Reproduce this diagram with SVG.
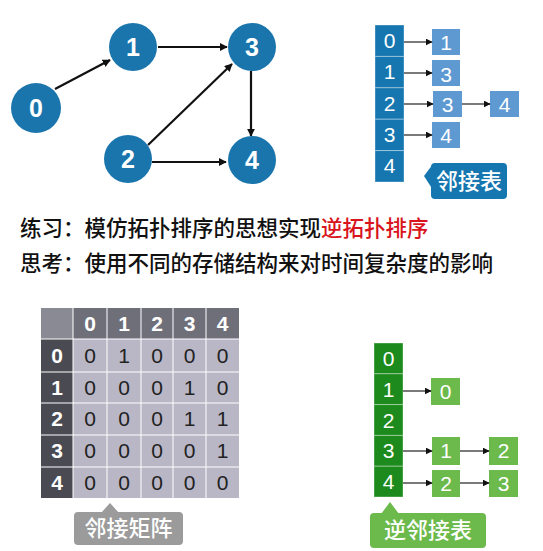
<svg xmlns="http://www.w3.org/2000/svg" width="543" height="551" viewBox="0 0 543 551">
<defs>
<marker id="ah" viewBox="0 0 10 10" refX="9" refY="5" markerWidth="7" markerHeight="7" orient="auto" markerUnits="userSpaceOnUse"><path d="M0,0 L10,5 L0,10 z" fill="#111"/></marker>
<marker id="ah2" viewBox="0 0 10 10" refX="9" refY="5" markerWidth="8" markerHeight="8" orient="auto" markerUnits="userSpaceOnUse"><path d="M0,0 L10,5 L0,10 z" fill="#111"/></marker>
<style>
.node{fill:#1b75ad}
.nt{font-family:"Liberation Sans",Arial,sans-serif;font-size:25px;font-weight:bold;fill:#fff;text-anchor:middle}
.e{stroke:#111;stroke-width:2.2;fill:none;marker-end:url(#ah2)}
.a{stroke:#222;stroke-width:1.2;fill:none;marker-end:url(#ah)}
.t{font-family:"Liberation Sans",Arial,sans-serif;font-size:21px;fill:#fff;text-anchor:middle}
.tb{font-family:"Liberation Sans",Arial,sans-serif;font-size:21px;font-weight:bold;fill:#fff;text-anchor:middle}
.tm{font-family:"Liberation Sans",Arial,sans-serif;font-size:21px;fill:#222;text-anchor:middle}
.cn{font-family:"Noto Sans CJK SC",sans-serif;font-size:21.5px;font-weight:500;fill:#111}
.lbl{font-family:"Noto Sans CJK SC",sans-serif;font-size:22px;font-weight:500;fill:#fff;text-anchor:middle}
.dk{fill:#1576b0;stroke:#fff;stroke-opacity:0.35;stroke-width:1}
.lt{fill:#5e99d2}
.gd{fill:#1d8a1d;stroke:#fff;stroke-opacity:0.35;stroke-width:1}
.gl{fill:#6cb94c}
.g{stroke:#fff;stroke-width:1}
</style>
</defs>
<rect width="543" height="551" fill="#fff"/>

<g id="edges">
<line class="e" x1="55" y1="89" x2="110" y2="60"/>
<line class="e" x1="158" y1="47" x2="227" y2="47"/>
<line class="e" x1="148" y1="145" x2="232" y2="64"/>
<line class="e" x1="152" y1="162" x2="226" y2="162"/>
<line class="e" x1="251" y1="71" x2="251" y2="136"/>
</g>
<g id="n0"><circle class="node" cx="36" cy="108" r="25"/><text class="nt" x="36" y="117">0</text></g>
<g id="n1"><circle class="node" cx="133" cy="47" r="24"/><text class="nt" x="133" y="56">1</text></g>
<g id="n3"><circle class="node" cx="252" cy="47" r="24"/><text class="nt" x="252" y="56">3</text></g>
<g id="n2"><circle class="node" cx="128" cy="159" r="24"/><text class="nt" x="128" y="168">2</text></g>
<g id="n4"><circle class="node" cx="252" cy="160" r="24"/><text class="nt" x="252" y="169">4</text></g>

<g id="adjlist">
<rect class="dk" x="375" y="25" width="29" height="31.4"/><text class="t" x="389.5" y="48">0</text>
<rect class="dk" x="375" y="56.4" width="29" height="31.4"/><text class="t" x="389.5" y="79">1</text>
<rect class="dk" x="375" y="87.8" width="29" height="31.4"/><text class="t" x="389.5" y="111">2</text>
<rect class="dk" x="375" y="119.2" width="29" height="31.4"/><text class="t" x="389.5" y="142">3</text>
<rect class="dk" x="375" y="150.6" width="29" height="31.4"/><text class="t" x="389.5" y="173">4</text>
<rect class="lt" x="432" y="29" width="28" height="26"/><text class="t" x="446" y="50">1</text>
<rect class="lt" x="432" y="60" width="28" height="26"/><text class="t" x="446" y="82">3</text>
<rect class="lt" x="433" y="91" width="29" height="26"/><text class="t" x="447.5" y="112">3</text>
<rect class="lt" x="490" y="91" width="29" height="26"/><text class="t" x="504.5" y="112">4</text>
<rect class="lt" x="432" y="122" width="28" height="26"/><text class="t" x="446" y="143">4</text>
</g>
<g id="adjarrows">
<line class="a" x1="404" y1="42" x2="432" y2="42"/>
<line class="a" x1="404" y1="73" x2="432" y2="73"/>
<line class="a" x1="404" y1="104" x2="433" y2="104"/>
<line class="a" x1="462" y1="104" x2="490" y2="104"/>
<line class="a" x1="404" y1="135" x2="432" y2="135"/>
</g>
<g id="lbl-adj">
<path d="M424,176 L433,164 L433,190 z" fill="#1576b0"/>
<rect x="431" y="163" width="76" height="36" rx="4" fill="#1576b0"/>
<text class="lbl" x="469" y="189">邻接表</text>
</g>

<g id="text">
<text class="cn" x="20" y="236">练习：模仿拓扑排序的思想实现<tspan fill="#d9141c">逆拓扑排序</tspan></text>
<text class="cn" x="20" y="271">思考：使用不同的存储结构来对时间复杂度的影响</text>
</g>

<g id="matrix">
<rect x="41" y="308" width="32" height="31" fill="#8a8a94"/>
<rect x="73" y="308" width="166" height="31" fill="#6f6f7a"/>
<rect x="41" y="339" width="32" height="159" fill="#4a4a52"/>
<rect x="73" y="339" width="166" height="159" fill="#b9b7c6"/>
<g class="g">
<line x1="73" y1="308" x2="73" y2="498"/>
<line x1="107" y1="308" x2="107" y2="498"/>
<line x1="141" y1="308" x2="141" y2="498"/>
<line x1="173" y1="308" x2="173" y2="498"/>
<line x1="206" y1="308" x2="206" y2="498"/>
<line x1="41" y1="339" x2="239" y2="339"/>
<line x1="41" y1="372" x2="239" y2="372"/>
<line x1="41" y1="403" x2="239" y2="403"/>
<line x1="41" y1="435" x2="239" y2="435"/>
<line x1="41" y1="467" x2="239" y2="467"/>
</g>
<text class="tb" x="90" y="331">0</text><text class="tb" x="124" y="331">1</text><text class="tb" x="157" y="331">2</text><text class="tb" x="189.5" y="331">3</text><text class="tb" x="222.5" y="331">4</text>
<text class="tb" x="57" y="363">0</text><text class="tb" x="57" y="395">1</text><text class="tb" x="57" y="426">2</text><text class="tb" x="57" y="458">3</text><text class="tb" x="57" y="490">4</text>
<text class="tm" x="90" y="363">0</text><text class="tm" x="124" y="363">1</text><text class="tm" x="157" y="363">0</text><text class="tm" x="189.5" y="363">0</text><text class="tm" x="222.5" y="363">0</text>
<text class="tm" x="90" y="395">0</text><text class="tm" x="124" y="395">0</text><text class="tm" x="157" y="395">0</text><text class="tm" x="189.5" y="395">1</text><text class="tm" x="222.5" y="395">0</text>
<text class="tm" x="90" y="426">0</text><text class="tm" x="124" y="426">0</text><text class="tm" x="157" y="426">0</text><text class="tm" x="189.5" y="426">1</text><text class="tm" x="222.5" y="426">1</text>
<text class="tm" x="90" y="458">0</text><text class="tm" x="124" y="458">0</text><text class="tm" x="157" y="458">0</text><text class="tm" x="189.5" y="458">0</text><text class="tm" x="222.5" y="458">1</text>
<text class="tm" x="90" y="490">0</text><text class="tm" x="124" y="490">0</text><text class="tm" x="157" y="490">0</text><text class="tm" x="189.5" y="490">0</text><text class="tm" x="222.5" y="490">0</text>
</g>
<g id="lbl-matrix">
<path d="M110,503 L101,513 L119,513 z" fill="#9b9b9b"/>
<rect x="74" y="512" width="109" height="33" rx="4" fill="#9b9b9b"/>
<text class="lbl" x="128.5" y="536">邻接矩阵</text>
</g>

<g id="revlist">
<rect class="gd" x="374" y="343" width="29" height="30.8"/><text class="t" x="388.5" y="366">0</text>
<rect class="gd" x="374" y="373.8" width="29" height="30.8"/><text class="t" x="388.5" y="397">1</text>
<rect class="gd" x="374" y="404.6" width="29" height="30.8"/><text class="t" x="388.5" y="428">2</text>
<rect class="gd" x="374" y="435.4" width="29" height="30.8"/><text class="t" x="388.5" y="458">3</text>
<rect class="gd" x="374" y="466.2" width="29" height="30.8"/><text class="t" x="388.5" y="489">4</text>
<rect class="gl" x="431" y="378" width="29" height="27"/><text class="t" x="445.5" y="399">0</text>
<rect class="gl" x="432" y="437" width="28" height="28"/><text class="t" x="446" y="458">1</text>
<rect class="gl" x="489" y="437" width="29" height="28"/><text class="t" x="503.5" y="458">2</text>
<rect class="gl" x="432" y="470" width="28" height="27"/><text class="t" x="446" y="491">2</text>
<rect class="gl" x="489" y="470" width="29" height="27"/><text class="t" x="503.5" y="491">3</text>
</g>
<g id="revarrows">
<line class="a" x1="403" y1="391" x2="431" y2="391"/>
<line class="a" x1="403" y1="451" x2="432" y2="451"/>
<line class="a" x1="460" y1="451" x2="489" y2="451"/>
<line class="a" x1="403" y1="483" x2="432" y2="483"/>
<line class="a" x1="460" y1="483" x2="489" y2="483"/>
</g>
<g id="lbl-rev">
<path d="M390,502 L381,514 L399,514 z" fill="#6cb94c"/>
<rect x="370" y="513" width="116" height="35" rx="4" fill="#6cb94c"/>
<text class="lbl" x="428" y="538">逆邻接表</text>
</g>
</svg>
